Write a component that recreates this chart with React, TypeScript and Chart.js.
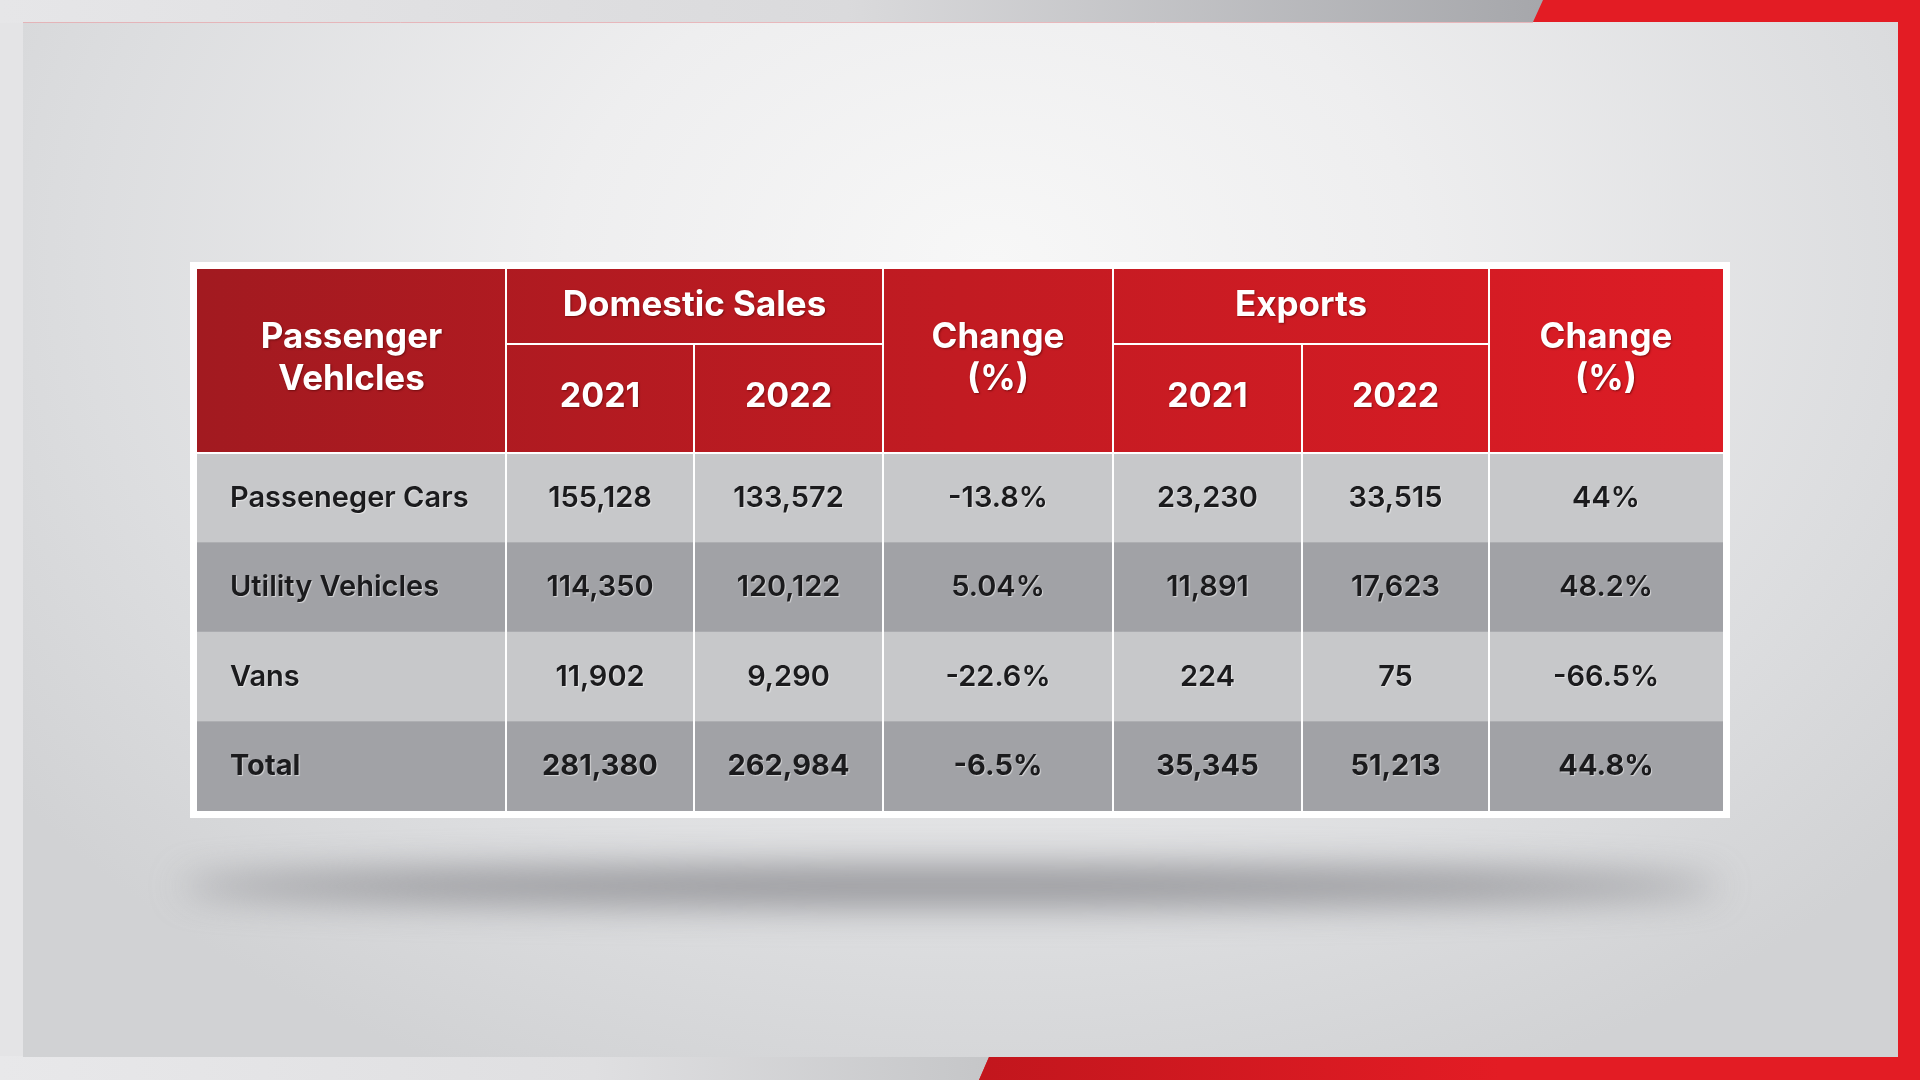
import React, { useEffect, useRef } from "react";
import { Chart, registerables } from "chart.js";

Chart.register(...registerables);

// ---------- data ----------
const FIRST_HEADER = ["Passenger", "Vehlcles"];
const GROUP_HEADERS = ["Domestic Sales", "Exports"];
const YEAR_LABELS = ["2021", "2022"];
const CHANGE_HEADER = ["Change", "(%)"];
const ROW_LABELS = ["Passeneger Cars", "Utility Vehicles", "Vans", "Total"];
const DOMESTIC_2021 = [155128, 114350, 11902, 281380];
const DOMESTIC_2022 = [133572, 120122, 9290, 262984];
const DOMESTIC_CHANGE = [-13.8, 5.04, -22.6, -6.5];
const EXPORTS_2021 = [23230, 11891, 224, 35345];
const EXPORTS_2022 = [33515, 17623, 75, 51213];
const EXPORTS_CHANGE = [44, 48.2, -66.5, 44.8];

// ---------- layout ----------
const W = 1920;
const H = 1080;
const TABLE_LEFT = 197;
const TABLE_RIGHT = 1723;
const HEADER_TOP = 269;
const HEADER_SPLIT = 344;
const BODY_TOP = 453;
const BODY_BOTTOM = 811;
const COL_WIDTHS = [309, 188, 189, 230, 189, 187, 234];
const TOTAL_W = COL_WIDTHS.reduce((a, b) => a + b, 0);
const EDGES: number[] = COL_WIDTHS.reduce((acc: number[], w) => {
  acc.push(acc[acc.length - 1] + w);
  return acc;
}, [0]);

const FONT = "Inter, 'Open Sans', 'DejaVu Sans', sans-serif";
const ROW_LIGHT = "#c7c8ca";
const ROW_DARK = "#a1a2a6";
const TEXT_DARK = "#1b1b1d";

const fmtNum = (v: number) => v.toLocaleString("en-US");
const fmtPct = (v: number) => `${v}%`;

const COLUMN_TEXT: string[][] = [
  ROW_LABELS,
  DOMESTIC_2021.map(fmtNum),
  DOMESTIC_2022.map(fmtNum),
  DOMESTIC_CHANGE.map(fmtPct),
  EXPORTS_2021.map(fmtNum),
  EXPORTS_2022.map(fmtNum),
  EXPORTS_CHANGE.map(fmtPct),
];

function drawBackground(ctx: CanvasRenderingContext2D) {
  ctx.save();
  ctx.fillStyle = "#e4e4e6";
  ctx.fillRect(0, 0, W, H);

  // top strip
  let g = ctx.createLinearGradient(0, 0, 1540, 0);
  g.addColorStop(0, "#e6e6e8");
  g.addColorStop(0.55, "#dadadc");
  g.addColorStop(1, "#a6a7ab");
  ctx.fillStyle = g;
  ctx.fillRect(0, 0, 1545, 23);

  // bottom strip
  g = ctx.createLinearGradient(0, 0, 990, 0);
  g.addColorStop(0, "#e8e8ea");
  g.addColorStop(0.6, "#dfdfe1");
  g.addColorStop(1, "#c5c6c8");
  ctx.fillStyle = g;
  ctx.fillRect(0, 1056, 995, 24);

  // red frame
  ctx.fillStyle = "#e31c24";
  ctx.beginPath();
  ctx.moveTo(1543, 0);
  ctx.lineTo(W, 0);
  ctx.lineTo(W, H);
  ctx.lineTo(979, H);
  ctx.lineTo(989, 1057);
  ctx.lineTo(1898, 1057);
  ctx.lineTo(1898, 22);
  ctx.lineTo(1533, 22);
  ctx.closePath();
  ctx.fill();
  g = ctx.createLinearGradient(980, 0, 1500, 0);
  g.addColorStop(0, "#c2161d");
  g.addColorStop(1, "#e31c24");
  ctx.fillStyle = g;
  ctx.beginPath();
  ctx.moveTo(989, 1057);
  ctx.lineTo(1898, 1057);
  ctx.lineTo(1898, H);
  ctx.lineTo(979, H);
  ctx.closePath();
  ctx.fill();

  // panel
  ctx.save();
  ctx.beginPath();
  ctx.rect(23, 22, 1875, 1035);
  ctx.clip();
  ctx.translate(990, 260);
  ctx.scale(1.35, 1);
  const rg = ctx.createRadialGradient(0, 0, 0, 0, 0, 900);
  rg.addColorStop(0, "#f7f7f7");
  rg.addColorStop(0.35, "#eeeeef");
  rg.addColorStop(0.75, "#dcdddf");
  rg.addColorStop(1, "#d1d2d4");
  ctx.fillStyle = rg;
  ctx.fillRect(-1200, -600, 2400, 1800);
  ctx.restore();

  // panel edge line
  ctx.strokeStyle = "rgba(230,170,175,0.8)";
  ctx.lineWidth = 1;
  ctx.beginPath();
  ctx.moveTo(23, 22.5);
  ctx.lineTo(1533, 22.5);
  ctx.stroke();

  // shadow beneath table
  ctx.save();
  ctx.filter = "blur(18px)";
  ctx.fillStyle = "rgba(125,125,130,0.8)";
  ctx.beginPath();
  ctx.ellipse(950, 886, 770, 19, 0, 0, Math.PI * 2);
  ctx.fill();
  ctx.restore();

  // white table border
  ctx.fillStyle = "#ffffff";
  ctx.fillRect(190, 262, 1540, 556);
  ctx.restore();
}

const tablePlugin = {
  id: "tableDecor",
  beforeDraw(chart: any) {
    const ctx: CanvasRenderingContext2D = chart.ctx;
    drawBackground(ctx);
    const x = chart.scales.x;
    const px = (v: number) => x.getPixelForValue(v);
    const left = px(0);
    const right = px(TOTAL_W);
    const hg = ctx.createLinearGradient(left, 0, right, 0);
    hg.addColorStop(0, "#a21a20");
    hg.addColorStop(0.5, "#c21b22");
    hg.addColorStop(1, "#dd1c25");
    ctx.save();
    ctx.fillStyle = hg;
    ctx.fillRect(left, HEADER_TOP, right - left, BODY_TOP - HEADER_TOP);
    ctx.restore();
  },
  afterDatasetsDraw(chart: any) {
    const ctx: CanvasRenderingContext2D = chart.ctx;
    const x = chart.scales.x;
    const y = chart.scales.y;
    const px = (v: number) => x.getPixelForValue(v);
    const area = chart.chartArea;
    const left = px(0);
    const right = px(TOTAL_W);
    ctx.save();
    ctx.strokeStyle = "#ffffff";
    ctx.lineWidth = 2;
    const vline = (xx: number, y0: number, y1: number) => {
      ctx.beginPath();
      ctx.moveTo(Math.round(xx), y0);
      ctx.lineTo(Math.round(xx), y1);
      ctx.stroke();
    };
    const hline = (x0: number, x1: number, yy: number) => {
      ctx.beginPath();
      ctx.moveTo(x0, yy);
      ctx.lineTo(x1, yy);
      ctx.stroke();
    };
    // body verticals
    for (let i = 1; i < EDGES.length - 1; i++) vline(px(EDGES[i]), area.top, area.bottom);
    // header verticals
    [1, 3, 4, 6].forEach((i) => vline(px(EDGES[i]), HEADER_TOP, BODY_TOP));
    [2, 5].forEach((i) => vline(px(EDGES[i]), HEADER_SPLIT, BODY_TOP));
    hline(px(EDGES[1]), px(EDGES[3]), HEADER_SPLIT);
    hline(px(EDGES[4]), px(EDGES[6]), HEADER_SPLIT);
    hline(left, right, BODY_TOP);

    // header text
    const center = (i: number) => (px(EDGES[i]) + px(EDGES[i + 1])) / 2;
    ctx.fillStyle = "#ffffff";
    ctx.textAlign = "center";
    ctx.textBaseline = "alphabetic";
    ctx.shadowColor = "rgba(70,0,0,0.55)";
    ctx.shadowOffsetX = 1;
    ctx.shadowOffsetY = 1;
    ctx.shadowBlur = 2;
    ctx.font = `700 35px ${FONT}`;
    FIRST_HEADER.forEach((t, k) => ctx.fillText(t, center(0), 348 + k * 42));
    CHANGE_HEADER.forEach((t, k) => {
      ctx.fillText(t, center(3), 348 + k * 42);
      ctx.fillText(t, center(6), 348 + k * 42);
    });
    ctx.fillText(GROUP_HEADERS[0], (px(EDGES[1]) + px(EDGES[3])) / 2, 316);
    ctx.fillText(GROUP_HEADERS[1], (px(EDGES[4]) + px(EDGES[6])) / 2, 316);
    ctx.font = `700 34px ${FONT}`;
    [1, 2, 4, 5].forEach((c, k) => ctx.fillText(YEAR_LABELS[k % 2], center(c), 407));

    // body text
    ctx.fillStyle = TEXT_DARK;
    ctx.shadowColor = "rgba(255,255,255,0.55)";
    ctx.shadowOffsetX = 1;
    ctx.shadowOffsetY = 1;
    ctx.shadowBlur = 1;
    ROW_LABELS.forEach((_, r) => {
      const cy = y.getPixelForValue(r) + 9;
      const isTotal = r === ROW_LABELS.length - 1;
      COLUMN_TEXT.forEach((col, c) => {
        ctx.font = `${isTotal ? 700 : 600} 29px ${FONT}`;
        if (c === 0) {
          ctx.textAlign = "left";
          ctx.fillText(col[r], px(0) + 33, cy);
        } else {
          ctx.textAlign = "center";
          ctx.fillText(col[r], center(c), cy);
        }
      });
    });
    ctx.restore();
  },
};

export default function App() {
  const ref = useRef<HTMLCanvasElement>(null);
  useEffect(() => {
    const canvas = ref.current;
    if (!canvas) return;
    const chart = new Chart(canvas, {
      type: "bar",
      data: {
        labels: ROW_LABELS,
        datasets: COL_WIDTHS.map((w, i) => ({
          label: `col${i}`,
          data: ROW_LABELS.map(() => w),
          backgroundColor: ROW_LABELS.map((_, r) => (r % 2 === 0 ? ROW_LIGHT : ROW_DARK)),
          borderWidth: 0,
          barPercentage: 1,
          categoryPercentage: 1,
        })),
      },
      options: {
        indexAxis: "y",
        responsive: false,
        animation: false,
        events: [],
        layout: {
          padding: {
            left: TABLE_LEFT,
            right: W - TABLE_RIGHT,
            top: BODY_TOP,
            bottom: H - BODY_BOTTOM,
          },
        },
        scales: {
          x: { type: "linear", stacked: true, min: 0, max: TOTAL_W, display: false },
          y: { type: "category", stacked: true, offset: true, display: false },
        },
        plugins: {
          legend: { display: false },
          tooltip: { enabled: false },
        },
      },
      plugins: [tablePlugin],
    } as any);
    let alive = true;
    const fonts: any = (document as any).fonts;
    if (fonts && fonts.load) {
      Promise.all([
        fonts.load(`700 35px Inter`),
        fonts.load(`600 29px Inter`),
      ])
        .then(() => {
          if (alive) chart.draw();
        })
        .catch(() => {});
    }
    return () => {
      alive = false;
      chart.destroy();
    };
  }, []);
  return (
    <div style={{ position: "absolute", left: 0, top: 0, width: W, height: H }}>
      <canvas ref={ref} width={W} height={H} style={{ display: "block", width: W, height: H }} />
    </div>
  );
}
